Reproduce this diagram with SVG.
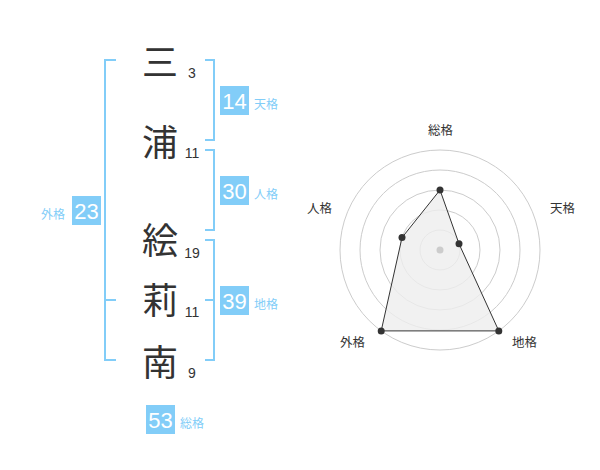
<svg xmlns="http://www.w3.org/2000/svg" width="600" height="470" viewBox="0 0 600 470">
<style>
.k{font-family:"Noto Sans CJK JP","Noto Sans",sans-serif;font-size:36px;fill:#333;text-anchor:middle}
.n{font-family:"Liberation Sans",Arial,sans-serif;font-size:14px;fill:#333;text-anchor:middle}
.box{fill:#82cdf8}
.bn{font-family:"Liberation Sans",Arial,sans-serif;font-size:22px;fill:#fff;text-anchor:middle}
.bl{font-family:"Noto Sans CJK JP",sans-serif;font-size:12px;fill:#82cdf8}
.br{fill:none;stroke:#82cdf8;stroke-width:2}
.ring{fill:none;stroke:#cccccc;stroke-width:1}
.rl{font-family:"Noto Sans CJK JP",sans-serif;font-size:12.5px;fill:#333;text-anchor:middle}
.dot{fill:#333}
</style>
<rect width="600" height="470" fill="#fff"/>
<g id="connectors">
<path class="br" d="M116,60 H105 V360 H116 M105,300 H116"/>
<path class="br" d="M205,60 H214 V140 H205"/>
<path class="br" d="M205,150 H214 V230 H205"/>
<path class="br" d="M205,240 H214 V360 H205 M214,300 H205"/>
</g>
<g id="char-mi"><text class="k" x="160" y="76">三</text><text class="n" x="192" y="77.7">3</text></g>
<g id="char-ura"><text class="k" x="160" y="156">浦</text><text class="n" x="192" y="157.7">11</text></g>
<g id="char-e"><text class="k" x="160" y="254">絵</text><text class="n" x="192" y="257.7">19</text></g>
<g id="char-ri"><text class="k" x="160" y="314">莉</text><text class="n" x="192" y="317">11</text></g>
<g id="char-na"><text class="k" x="160" y="375.5">南</text><text class="n" x="192" y="377.7">9</text></g>
<g id="tenkaku"><rect class="box" x="220" y="86" width="29" height="29"/><text class="bn" x="234.5" y="109">14</text><text class="bl" x="254" y="109">天格</text></g>
<g id="jinkaku"><rect class="box" x="220" y="176" width="29" height="29"/><text class="bn" x="234.5" y="199">30</text><text class="bl" x="254" y="199">人格</text></g>
<g id="gaikaku"><rect class="box" x="72" y="196" width="29" height="29"/><text class="bn" x="86.5" y="219">23</text><text class="bl" x="41" y="219">外格</text></g>
<g id="chikaku"><rect class="box" x="220" y="286" width="29" height="29"/><text class="bn" x="234.5" y="309">39</text><text class="bl" x="254" y="309">地格</text></g>
<g id="soukaku"><rect class="box" x="146" y="405" width="29" height="29"/><text class="bn" x="160.5" y="428">53</text><text class="bl" x="180" y="428">総格</text></g>
<g id="radar">
<circle class="ring" cx="440" cy="250" r="20"/>
<circle class="ring" cx="440" cy="250" r="40"/>
<circle class="ring" cx="440" cy="250" r="60"/>
<circle class="ring" cx="440" cy="250" r="80"/>
<circle class="ring" cx="440" cy="250" r="100"/>
<polygon points="440,190 459,243.8 498.8,330.9 381.2,330.9 402,237.6" fill="#eeeeee" fill-opacity="0.8" stroke="#333" stroke-width="1"/>
<circle cx="440" cy="250" r="3.5" fill="#cccccc"/>
<circle class="dot" cx="440" cy="190" r="3.5"/>
<circle class="dot" cx="459" cy="243.8" r="3.5"/>
<circle class="dot" cx="498.8" cy="330.9" r="3.5"/>
<circle class="dot" cx="381.2" cy="330.9" r="3.5"/>
<circle class="dot" cx="402" cy="237.6" r="3.5"/>
<text class="rl" x="440.5" y="135">総格</text>
<text class="rl" x="562.5" y="213">天格</text>
<text class="rl" x="319.5" y="213">人格</text>
<text class="rl" x="352.5" y="347">外格</text>
<text class="rl" x="524.5" y="347">地格</text>
</g>
</svg>
